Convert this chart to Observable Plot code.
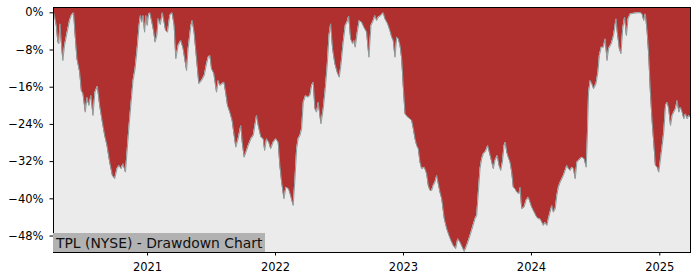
<!DOCTYPE html>
<html>
<head>
<meta charset="utf-8">
<script src="https://cdn.jsdelivr.net/npm/d3@7"></script>
<script src="https://cdn.jsdelivr.net/npm/@observablehq/plot@0.6"></script>
<style>
  body { margin: 0; background: white; }
  #wrap { position: relative; width: 700px; height: 280px; }
  #label {
    position: absolute; left: 53px; top: 233px; width: 212px; height: 19px;
    background: #b2b2b2; color: #111; font-family: "DejaVu Sans", sans-serif;
    font-size: 13.9px; line-height: 20px; padding-left: 3px; box-sizing: border-box; white-space: nowrap;
  }
</style>
</head>
<body>
<div id="wrap"><div id="label">TPL (NYSE) - Drawdown Chart</div></div>
<script>
// decimal-year positions of readings
const years = [
2020.267,2020.275,2020.289,2020.301,2020.309,2020.317,2020.328,2020.340,2020.353,2020.371,
2020.392,2020.406,2020.424,2020.434,2020.450,2020.471,2020.484,2020.497,2020.515,2020.528,
2020.543,2020.559,2020.575,2020.590,2020.609,2020.627,2020.648,2020.666,2020.684,2020.705,
2020.726,2020.744,2020.762,2020.778,2020.794,2020.809,2020.828,2020.840,2020.856,2020.872,
2020.887,2020.903,2020.919,2020.934,2020.945,2020.955,2020.966,2020.977,2020.987,2020.997,
2021.008,2021.018,2021.034,2021.049,2021.059,2021.073,2021.084,2021.100,2021.116,2021.141,
2021.156,2021.174,2021.192,2021.208,2021.221,2021.239,2021.260,2021.278,2021.305,2021.317,
2021.339,2021.349,2021.364,2021.383,2021.401,2021.422,2021.443,2021.461,2021.474,2021.487,
2021.500,2021.518,2021.539,2021.552,2021.565,2021.583,2021.597,2021.610,2021.625,2021.643,
2021.661,2021.677,2021.690,2021.708,2021.729,2021.740,2021.755,2021.769,2021.787,2021.808,
2021.826,2021.839,2021.852,2021.865,2021.886,2021.904,2021.915,2021.930,2021.948,2021.962,
2021.982,2022.003,2022.021,2022.034,2022.048,2022.066,2022.081,2022.102,2022.118,2022.138,
2022.152,2022.165,2022.177,2022.191,2022.204,2022.217,2022.235,2022.253,2022.269,2022.282,
2022.295,2022.308,2022.321,2022.334,2022.355,2022.373,2022.389,2022.404,2022.418,2022.431,
2022.446,2022.464,2022.482,2022.498,2022.511,2022.529,2022.545,2022.558,2022.572,2022.587,
2022.603,2022.613,2022.623,2022.639,2022.654,2022.673,2022.691,2022.712,2022.730,2022.746,
2022.764,2022.777,2022.790,2022.803,2022.824,2022.842,2022.855,2022.876,2022.894,2022.908,
2022.920,2022.934,2022.947,2022.959,2022.973,2022.986,2022.998,2023.012,2023.033,2023.051,
2023.064,2023.077,2023.090,2023.103,2023.116,2023.129,2023.142,2023.163,2023.181,2023.194,
2023.207,2023.220,2023.233,2023.246,2023.260,2023.272,2023.285,2023.299,2023.319,2023.338,
2023.356,2023.371,2023.389,2023.408,2023.424,2023.442,2023.460,2023.475,2023.494,2023.512,
2023.532,2023.559,2023.572,2023.585,2023.598,2023.611,2023.624,2023.637,2023.650,2023.658,
2023.671,2023.690,2023.702,2023.715,2023.733,2023.747,2023.760,2023.773,2023.786,2023.796,
2023.807,2023.819,2023.833,2023.846,2023.858,2023.872,2023.885,2023.903,2023.911,2023.924,
2023.942,2023.958,2023.976,2023.989,2024.002,2024.015,2024.028,2024.041,2024.054,2024.067,
2024.081,2024.093,2024.106,2024.120,2024.132,2024.145,2024.159,2024.171,2024.185,2024.198,
2024.210,2024.224,2024.237,2024.249,2024.263,2024.276,2024.289,2024.302,2024.315,2024.328,
2024.341,2024.354,2024.367,2024.380,2024.393,2024.411,2024.427,2024.435,2024.445,2024.458,
2024.471,2024.484,2024.503,2024.518,2024.529,2024.544,2024.560,2024.575,2024.589,2024.601,
2024.622,2024.640,2024.659,2024.669,2024.685,2024.698,2024.711,2024.726,2024.740,2024.753,
2024.771,2024.797,2024.823,2024.849,2024.862,2024.875,2024.888,2024.902,2024.914,2024.927,
2024.941,2024.953,2024.966,2024.980,2024.992,2025.006,2025.019,2025.031,2025.045,2025.058,
2025.070,2025.084,2025.097,2025.109,2025.123,2025.136,2025.149,2025.162,2025.175,2025.188,
2025.201,2025.214,2025.227,2025.240
];
// drawdown from running peak, percent
const drawdown = [
0,-0.58,-2.73,-6.32,-6.67,-2.37,-6.32,-10.26,-7.03,-4.52,
-1.66,-0.58,0,-4.17,-9.89,-12.77,-16.71,-17.42,-21.37,-18.15,
-19.93,-17.78,-22.08,-17.07,-15.78,-19.93,-23.52,-26.38,-28.53,-32.12,
-34.98,-35.69,-33.54,-32.83,-33.54,-32.47,-34.27,-29.97,-24.23,-19.22,
-14.56,-12.04,-7.74,-2.73,-0.58,-2.02,-0.58,-4.17,-0.58,-2.73,
-0.43,0,-2.02,-4.17,-6.32,-4.88,-1.23,-2.52,0,-3.81,
-4.17,-0.58,0,-2.73,-9.89,-7.03,-5.96,-7.74,-12.41,-7.74,
-2.73,-1.66,-4.17,-9.89,-15.27,-14.56,-13.48,-10.97,-9.55,-9.18,
-12.04,-13.05,-17.07,-14.56,-15.63,-15.27,-14.92,-17.07,-19.93,-21.37,
-23.16,-26.38,-28.90,-27.09,-24.23,-27.82,-31.05,-29.97,-28.53,-27.09,
-26.38,-24.23,-22.08,-24.23,-26.75,-27.09,-29.61,-27.09,-27.89,-29.24,
-27.82,-27.09,-27.82,-32.83,-36.42,-39.99,-37.50,-37.84,-39.28,-41.43,
-35.69,-29.24,-27.09,-26.38,-24.94,-19.22,-17.78,-18.15,-17.78,-15.63,
-14.92,-20.64,-21.37,-19.22,-23.87,-20.64,-16.34,-11.33,-4.88,-2.37,
-7.74,-10.97,-12.77,-13.85,-11.33,-6.32,-2.73,-2.09,-0.73,-5.59,
-6.67,-5.96,-7.40,-4.17,-1.66,-2.02,-3.10,-4.17,-9.55,-2.73,
-1.66,-0.58,-1.66,-0.95,-0.58,0,-1.29,-2.37,-3.81,-5.25,
-5.96,-9.55,-5.25,-5.59,-7.03,-9.89,-15.63,-21.72,-22.45,-22.79,
-23.16,-24.94,-27.09,-28.53,-29.24,-32.12,-33.54,-33.20,-34.62,-37.13,
-38.21,-38.21,-37.13,-36.42,-34.98,-36.77,-38.57,-39.99,-44.29,-46.44,
-47.88,-48.96,-50.03,-50.74,-48.59,-49.32,-50.40,-51.32,-50.03,-48.59,
-46.81,-44.29,-43.58,-38.57,-33.54,-31.39,-30.32,-29.97,-29.24,-28.53,
-29.97,-32.12,-33.54,-31.76,-30.68,-32.83,-33.91,-32.12,-28.53,-27.82,
-29.97,-31.05,-32.12,-34.27,-37.50,-37.84,-38.57,-38.92,-37.50,-42.14,
-41.80,-40.36,-39.65,-40.72,-41.80,-42.51,-43.22,-43.95,-44.29,-44.29,
-45.02,-45.73,-45.02,-45.73,-44.29,-42.87,-41.43,-42.87,-42.14,-39.28,
-37.50,-36.42,-35.69,-34.98,-33.91,-32.83,-33.54,-33.91,-33.20,-33.54,
-35.69,-32.12,-31.76,-31.39,-31.05,-31.39,-33.20,-27.09,-17.07,-14.56,
-15.27,-16.34,-15.27,-12.77,-9.18,-7.40,-7.40,-5.59,-10.26,-7.74,
-6.67,-4.88,-1.29,-4.17,-7.74,-8.82,-3.44,-0.95,-4.88,-1.29,
-0.22,-0.11,0,0,-0.26,-1.66,-0.22,-4.17,-9.18,-17.07,
-23.52,-27.82,-32.83,-33.20,-34.27,-31.39,-28.53,-25.67,-19.93,-19.22,
-20.64,-24.23,-22.08,-21.37,-20.64,-18.86,-21.37,-20.30,-21.37,-22.79,
-21.72,-22.79,-22.08,-22.45
];
const yTickValues = [0, -8, -16, -24, -32, -40, -48];
const xTickYears = [2021, 2022, 2023, 2024, 2025];

function toDate(y) {
  const Y = Math.floor(y);
  const s = Date.UTC(Y, 0, 1), e = Date.UTC(Y + 1, 0, 1);
  return new Date(s + (y - Y) * (e - s));
}
const data = years.map((y, i) => ({date: toDate(y), dd: drawdown[i]}));
const yTop = 1.14, yBottom = -51.54;

const chart = Plot.plot({
  width: 700, height: 280,
  marginLeft: 53, marginRight: 10, marginTop: 7, marginBottom: 28,
  style: {fontFamily: "DejaVu Sans, sans-serif", fontSize: "11.5px", background: "white", color: "black"},
  x: {
    type: "utc", domain: [toDate(years[0]), toDate(years[years.length - 1])],
    ticks: xTickYears.map(y => new Date(Date.UTC(y, 0, 1))),
    tickFormat: d => String(d.getUTCFullYear()), tickSize: 3.5, tickPadding: 7, label: null
  },
  y: {
    domain: [yBottom, yTop], ticks: yTickValues,
    tickFormat: d => d === 0 ? "0%" : "\u2212" + Math.abs(d) + "%",
    tickSize: 3.5, tickPadding: 6.5, label: null
  },
  marks: [
    Plot.frame({fill: "#ebebeb"}),
    Plot.areaY(data, {x: "date", y1: () => yTop, y2: "dd", fill: "#b03030"}),
    Plot.lineY(data, {x: "date", y: "dd", stroke: "#8e9b9b", strokeWidth: 1}),
    Plot.frame({stroke: "black", strokeWidth: 1})
  ]
});
document.getElementById("wrap").prepend(chart);
</script>
</body>
</html>
